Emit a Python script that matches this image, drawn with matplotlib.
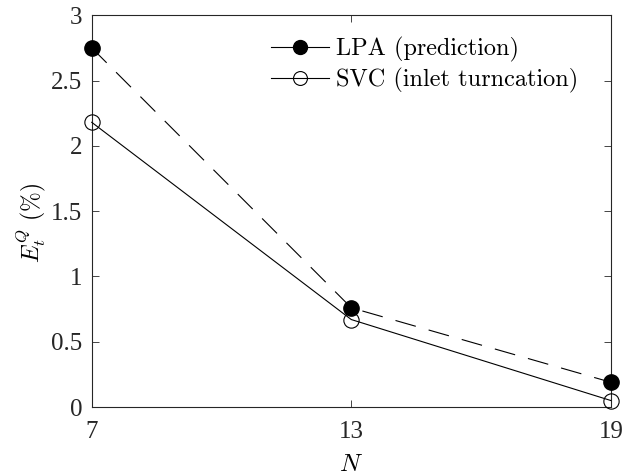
import matplotlib
matplotlib.use("Agg")
import matplotlib.pyplot as plt
from matplotlib.lines import Line2D

# data
n_values = [7, 13, 19]
lpa_error = [2.75, 0.76, 0.19]
svc_error = [2.18, 0.67, 0.05]
x_ticks = [7, 13, 19]
y_ticks = [0, 0.5, 1, 1.5, 2, 2.5, 3]
y_tick_labels = ['0', '0.5', '1', '1.5', '2', '2.5', '3']

plt.rcParams['mathtext.fontset'] = 'cm'
plt.rcParams['font.family'] = 'Liberation Serif'

fig = plt.figure(figsize=(6.24, 4.75), dpi=100)
ax = fig.add_axes([0.147, 0.143, 0.832, 0.825])

ax.plot(n_values, lpa_error, color='black', linestyle=(0, (19, 12)), linewidth=0.8,
        marker='o', markersize=11, markerfacecolor='black', markeredgecolor='black',
        clip_on=False, zorder=3)
ax.plot(n_values, svc_error, color='black', linestyle='-', linewidth=0.8,
        marker='o', markersize=11, markerfacecolor='none', markeredgecolor='black',
        markeredgewidth=0.8, clip_on=False, zorder=3)

ax.set_xlim(7, 19)
ax.set_ylim(0, 3)
ax.set_xticks(x_ticks)
ax.set_yticks(y_ticks)
ax.set_yticklabels(y_tick_labels)
ax.tick_params(direction='in', length=5, width=0.6, labelsize=18, colors='#262626',
               top=True, right=True)
ax.tick_params(axis='x', pad=10)
ax.tick_params(axis='y', pad=7)
for s in ax.spines.values():
    s.set_linewidth(0.8)
    s.set_color('#262626')

ax.set_xlabel('$N$', fontsize=18, labelpad=8)
ax.set_ylabel('$E_t^Q$ (%)', fontsize=17, family='cmr10')
ax.yaxis.set_label_coords(-0.085, 0.47)

# legend lines drawn solid like the original
handles = [
    Line2D([], [], color='black', linewidth=0.8, marker='o', markersize=10,
           markerfacecolor='black'),
    Line2D([], [], color='black', linewidth=0.8, marker='o', markersize=10,
           markerfacecolor='none', markeredgewidth=0.8),
]
ax.legend(handles, ['LPA (prediction)', 'SVC (inlet turncation)'], loc='upper right',
          frameon=False, prop={'family': 'cmr10', 'size': 17.5}, handlelength=2.4,
          handletextpad=0.3, labelspacing=0.25, borderaxespad=0.5,
          bbox_to_anchor=(0.98, 1.0))

fig.savefig('out.png', dpi=100)
